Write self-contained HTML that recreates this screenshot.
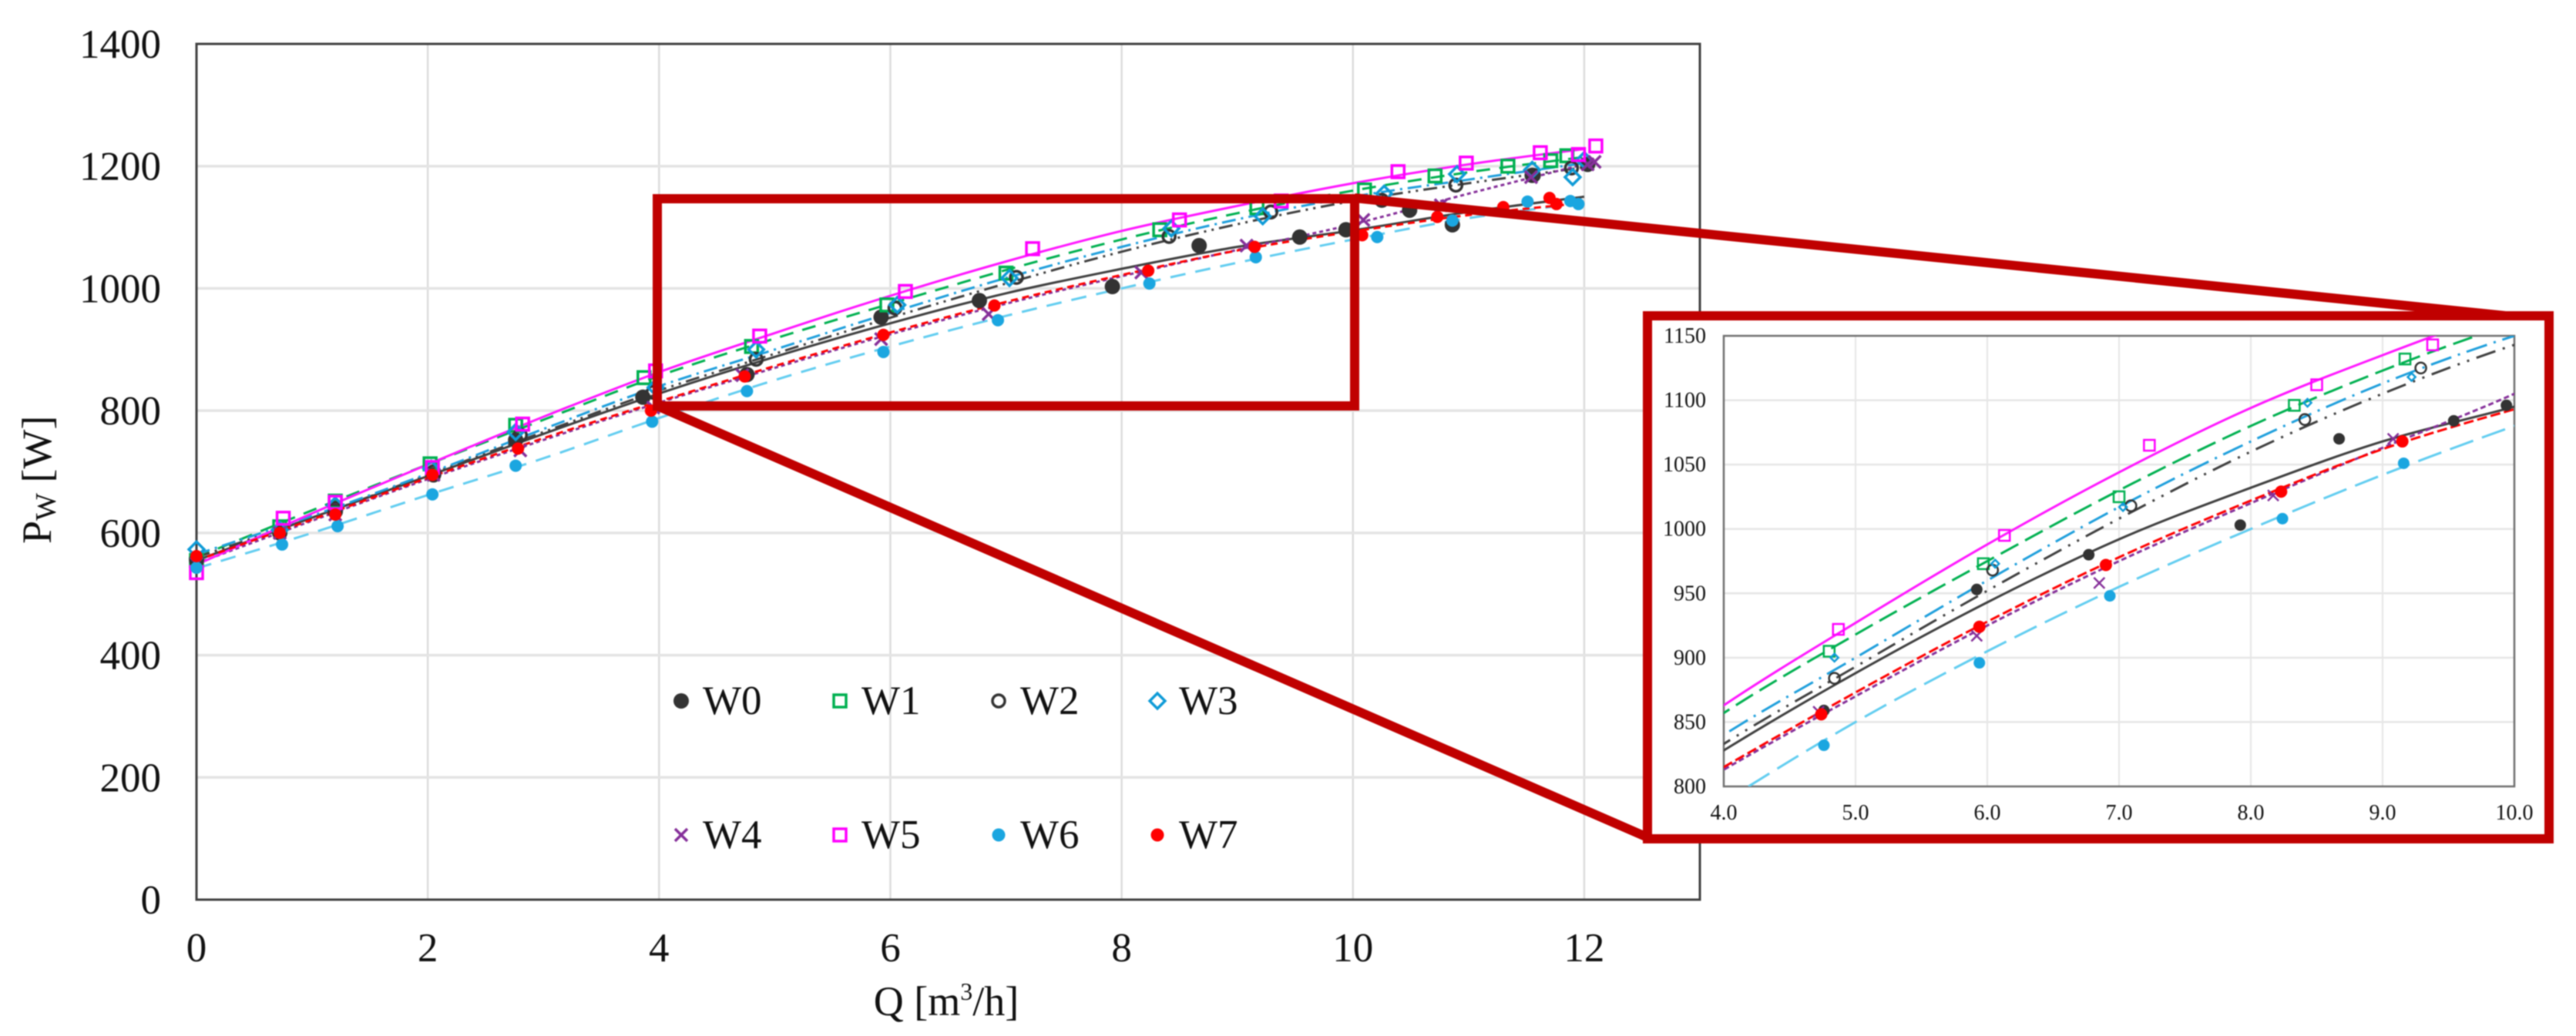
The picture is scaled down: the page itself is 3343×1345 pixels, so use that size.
<!DOCTYPE html>
<html lang="en">
<head>
<meta charset="utf-8">
<title>Pw versus Q pump curves</title>
<style>
html,body{margin:0;padding:0;background:#fff;width:3343px;height:1340px;overflow:hidden;}
#chart{position:absolute;left:0;top:0;display:block;width:3343px;height:1340px;overflow:hidden;}
#chart-content{filter:blur(0.7px);}
text{font-family:"Liberation Serif","Times New Roman",serif;fill:#111;}
</style>
</head>
<body>
<svg id="chart" xmlns="http://www.w3.org/2000/svg" width="3343" height="1340" viewBox="0 0 3343 1340">
  <defs>
    <clipPath id="inset-clip"><rect x="2237" y="436" width="1026" height="585"/></clipPath>
    <clipPath id="main-clip"><rect x="255" y="57" width="1951" height="1111"/></clipPath>
  </defs>
  <rect x="0" y="0" width="3343" height="1340" fill="#fff"/>
  <g id="chart-content">
  <g id="main-plot"></g>
  <text transform="translate(66,706) rotate(-90)" font-size="54">P<tspan font-size="38" dy="6">W</tspan><tspan dy="-6"> [W]</tspan></text>
  <text x="1228" y="1318" font-size="54" text-anchor="middle">Q [m<tspan font-size="32" dy="-20">3</tspan><tspan dy="20">/h]</tspan></text>
  <g id="legend"></g>
  <g id="zoom-callout">
    <rect x="853" y="258" width="905" height="269" fill="none" stroke="#c00000" stroke-width="12"/>
    <line x1="1758" y1="257" x2="3310" y2="416" stroke="#c00000" stroke-width="12"/>
    <line x1="853" y1="527" x2="2140" y2="1088" stroke="#c00000" stroke-width="12"/>
    <rect x="2138" y="410" width="1170" height="679" fill="#fff" stroke="#c00000" stroke-width="12"/>
  </g>
  <g id="inset-plot"></g>
  </g>
</svg>
<script>
const seriesNames = ['W0', 'W1', 'W2', 'W3', 'W4', 'W5', 'W6', 'W7'];
const mainXTicks = [0, 2, 4, 6, 8, 10, 12];
const mainYTicks = [0, 200, 400, 600, 800, 1000, 1200, 1400];
const insetXTicks = [4, 5, 6, 7, 8, 9, 10];
const insetYTicks = [800, 850, 900, 950, 1000, 1050, 1100, 1150];

const curveQ = [0, 1, 2, 3, 4, 5, 6, 7, 8, 9, 10, 11, 12];
const curveW0 = [555, 625, 693, 762, 828, 888, 943, 992, 1032, 1068, 1095, 1125, 1150];
const curveW1 = [560, 637, 712, 785, 857, 918, 975, 1030, 1080, 1123, 1160, 1190, 1215];
const curveW2 = [560, 625, 695, 765, 833, 893, 952, 1008, 1060, 1105, 1143, 1172, 1198];
const curveW3 = [565, 628, 697, 770, 840, 900, 960, 1017, 1068, 1113, 1150, 1178, 1205];
const curveW4 = [550, 620, 688, 752, 813, 870, 925, 975, 1020, 1063, 1105, 1155, 1203];
const curveW5 = [548, 632, 712, 790, 863, 927, 988, 1044, 1094, 1135, 1172, 1203, 1228];
const curveW6 = [542, 600, 662, 722, 788, 850, 905, 955, 1000, 1042, 1080, 1115, 1140];
const curveW7 = [555, 622, 690, 755, 815, 873, 928, 978, 1022, 1062, 1093, 1120, 1140];

const pointsQW0 = [0, 0.72, 1.2, 2.05, 2.76, 3.86, 4.76, 5.92, 6.77, 7.92, 8.67, 9.54, 9.94, 10.49, 10.86, 11.55, 12.03];
const pointsPW0 = [558, 600, 635, 695, 752, 822, 859, 953, 980, 1003, 1070, 1084, 1096, 1128, 1104, 1185, 1203];
const pointsQW1 = [0, 0.72, 1.2, 2.02, 2.76, 3.87, 4.8, 5.97, 7.0, 8.33, 9.17, 10.1, 10.71, 11.34, 11.71, 11.85];
const pointsPW1 = [555, 610, 652, 713, 776, 854, 905, 973, 1025, 1096, 1132, 1161, 1184, 1200, 1209, 1217];
const pointsQW2 = [0, 0.72, 1.2, 2.05, 2.8, 3.95, 4.84, 6.04, 7.09, 8.41, 9.29, 10.25, 10.89, 11.56, 11.89];
const pointsPW2 = [555, 600, 640, 700, 760, 830, 884, 968, 1018, 1085, 1125, 1144, 1169, 1185, 1197];
const pointsQW3 = [0, 0.72, 1.2, 2.03, 2.76, 3.97, 4.84, 6.06, 7.03, 8.43, 9.22, 10.27, 10.9, 11.55, 11.9, 12.0];
const pointsPW3 = [573, 605, 645, 705, 765, 838, 900, 973, 1017, 1098, 1118, 1155, 1187, 1194, 1182, 1210];
const pointsQW4 = [0, 0.72, 1.2, 2.05, 2.8, 3.95, 4.72, 5.92, 6.85, 8.17, 9.08, 10.09, 10.76, 11.54, 12.03, 12.09];
const pointsPW4 = [550, 600, 630, 695, 735, 805, 858, 917, 958, 1026, 1070, 1112, 1136, 1182, 1203, 1207];
const pointsQW5 = [0, 0.75, 1.2, 2.04, 2.82, 3.97, 4.87, 6.13, 7.23, 8.5, 9.38, 10.39, 10.98, 11.62, 11.95, 12.1];
const pointsPW5 = [535, 624, 650, 707, 778, 865, 922, 995, 1065, 1112, 1143, 1191, 1205, 1222, 1219, 1233];
const pointsQW6 = [0, 0.74, 1.22, 2.04, 2.76, 3.94, 4.76, 5.94, 6.93, 8.24, 9.16, 10.21, 10.86, 11.51, 11.88, 11.95];
const pointsPW6 = [543, 581, 611, 663, 710, 782, 832, 896, 948, 1008, 1051, 1084, 1111, 1142, 1143, 1138];
const pointsQW7 = [0, 0.72, 1.2, 2.04, 2.78, 3.93, 4.74, 5.94, 6.9, 8.23, 9.15, 10.08, 10.73, 11.3, 11.7, 11.76];
const pointsPW7 = [562, 600, 630, 695, 738, 800, 856, 924, 972, 1029, 1068, 1087, 1117, 1133, 1148, 1138];

const curves = [curveW0, curveW1, curveW2, curveW3, curveW4, curveW5, curveW6, curveW7];
const pointsQ = [pointsQW0, pointsQW1, pointsQW2, pointsQW3, pointsQW4, pointsQW5, pointsQW6, pointsQW7];
const pointsP = [pointsPW0, pointsPW1, pointsPW2, pointsPW3, pointsPW4, pointsPW5, pointsPW6, pointsPW7];
const lineColors = ['#404040', '#00b050', '#404040', '#1f9fdc', '#86309a', '#ff19ff', '#62cdf0', '#ff0000'];
const markColors = ['#333333', '#00b050', '#333333', '#0f9bd7', '#86309a', '#ff00ff', '#1ba6e0', '#ff0000'];
const dashes = ['', '18 12', '18 7 3 7 3 7', '18 7 3 7', '5 4', '', '20 13', '9 6'];
const insetDashes = ['', '26 10', '26 10 3 10 3 10', '28 9 3 9', '7 4', '', '32 12', '13 5'];
const shapes = ['dot', 'square', 'ring', 'diamond', 'cross', 'square', 'dot', 'dot'];
const insetDot = [7.5, 0, 0, 0, 0, 0, 7.5, 8];
const mainDot = [10, 0, 0, 0, 0, 0, 8, 8];
const legendDot = [10, 0, 0, 0, 0, 0, 8.5, 8.5];

const SVG_NS = 'http://www.w3.org/2000/svg';

function make(tag, attrs, parent) {
  const el = document.createElementNS(SVG_NS, tag);
  for (const k in attrs) el.setAttribute(k, attrs[k]);
  parent.appendChild(el);
  return el;
}

function linearScale(d0, d1, r0, r1) {
  return v => r0 + (v - d0) * (r1 - r0) / (d1 - d0);
}

function splinePath(xs, ys) {
  const n = xs.length;
  let d = 'M' + xs[0].toFixed(1) + ' ' + ys[0].toFixed(1);
  for (let i = 0; i < n - 1; i++) {
    const a = Math.max(i - 1, 0), b = Math.min(i + 2, n - 1);
    const c1x = xs[i] + (xs[i + 1] - xs[a]) / 6, c1y = ys[i] + (ys[i + 1] - ys[a]) / 6;
    const c2x = xs[i + 1] - (xs[b] - xs[i]) / 6, c2y = ys[i + 1] - (ys[b] - ys[i]) / 6;
    d += ' C' + c1x.toFixed(1) + ' ' + c1y.toFixed(1) + ' ' + c2x.toFixed(1) + ' ' + c2y.toFixed(1) + ' ' + xs[i + 1].toFixed(1) + ' ' + ys[i + 1].toFixed(1);
  }
  return d;
}

function drawMarker(parent, s, cx, cy, size, sw, dotR, diamondScale) {
  const shape = shapes[s], color = markColors[s];
  let el;
  if (shape === 'dot') {
    el = make('circle', {cx: cx, cy: cy, r: dotR, fill: color}, parent);
  } else if (shape === 'square') {
    el = make('rect', {x: cx - size / 2, y: cy - size / 2, width: size, height: size, fill: 'none', stroke: color, 'stroke-width': sw}, parent);
  } else if (shape === 'ring') {
    el = make('circle', {cx: cx, cy: cy, r: size / 2, fill: 'none', stroke: color, 'stroke-width': sw}, parent);
  } else if (shape === 'diamond') {
    const h = size * diamondScale;
    el = make('path', {d: 'M' + cx + ' ' + (cy - h) + ' L' + (cx + h) + ' ' + cy + ' L' + cx + ' ' + (cy + h) + ' L' + (cx - h) + ' ' + cy + ' Z', fill: 'none', stroke: color, 'stroke-width': sw}, parent);
  } else {
    const h = size / 2;
    el = make('path', {d: 'M' + (cx - h) + ' ' + (cy - h) + ' L' + (cx + h) + ' ' + (cy + h) + ' M' + (cx + h) + ' ' + (cy - h) + ' L' + (cx - h) + ' ' + (cy + h), fill: 'none', stroke: color, 'stroke-width': sw}, parent);
  }
  return el;
}

function drawPlot(root, cfg) {
  const xS = cfg.xS, yS = cfg.yS;
  const bg = make('rect', {x: cfg.left, y: cfg.top, width: cfg.right - cfg.left, height: cfg.bottom - cfg.top, fill: '#fff'}, root);
  
  

  cfg.xTicks.forEach(t => {
    if (t > cfg.xMinGrid && t < cfg.xMaxGrid) {
      const g = make('line', {x1: xS(t), x2: xS(t), y1: cfg.top, y2: cfg.bottom, stroke: cfg.gridV, 'stroke-width': cfg.gridVW}, root);
      
      
    }
    const lab = make('text', {x: xS(t), y: cfg.xLabelY, 'font-size': cfg.font, 'text-anchor': 'middle'}, root);
    
    
    lab.textContent = cfg.xFormat(t);
  });

  cfg.yTicks.forEach(t => {
    if (t > cfg.yMinGrid && t < cfg.yMaxGrid) {
      const g = make('line', {x1: cfg.left, x2: cfg.right, y1: yS(t), y2: yS(t), stroke: cfg.gridH, 'stroke-width': cfg.gridHW}, root);
      
      
    }
    const lab = make('text', {x: cfg.yLabelX, y: yS(t) + cfg.yLabelDy, 'font-size': cfg.font, 'text-anchor': 'end'}, root);
    
    
    lab.textContent = String(t);
  });

  const border = make('rect', {x: cfg.left, y: cfg.top, width: cfg.right - cfg.left, height: cfg.bottom - cfg.top, fill: 'none', stroke: cfg.border, 'stroke-width': cfg.borderW}, root);
  
  

  const clipped = make('g', {'clip-path': cfg.clip}, root);
  
  

  curves.forEach((vals, s) => {
    const path = make('path', {
      d: splinePath(curveQ.map(xS), vals.map(yS)),
      fill: 'none',
      stroke: lineColors[s],
      'stroke-width': cfg.lineW,
      'stroke-dasharray': cfg.dash[s]
    }, clipped);
    
    
  });

  const inDomain = root.id === 'inset-plot';
  pointsQ.forEach((qs, s) => {
    qs.forEach((q, i) => {
      const p = pointsP[s][i];
      if (inDomain && (q < 4 || q > 10 || p < 800 || p > 1150)) return;
      const m = drawMarker(root, s, xS(q), yS(p), cfg.markSize, cfg.markW, cfg.dots[s], cfg.diamond);
      
      
    });
  });
}

drawPlot(document.getElementById('main-plot'), {
  left: 255, right: 2206, top: 57, bottom: 1168,
  xS: linearScale(0, 13, 255, 2206),
  yS: linearScale(0, 1400, 1168, 57),
  xTicks: mainXTicks, yTicks: mainYTicks,
  xMinGrid: 0, xMaxGrid: 13, yMinGrid: 0, yMaxGrid: 1400,
  xLabelY: 1248, yLabelX: 209, yLabelDy: 18, font: 53,
  xFormat: t => String(t),
  gridV: '#dcdcdc', gridVW: 2.5, gridH: '#e4e4e4', gridHW: 3.5,
  border: '#404040', borderW: 3,
  clip: 'url(#main-clip)', lineW: 3, dash: dashes,
  markSize: 16, markW: 3.5, dots: mainDot, diamond: 0.62
});

drawPlot(document.getElementById('inset-plot'), {
  left: 2237, right: 3263, top: 436, bottom: 1021,
  xS: linearScale(4, 10, 2237, 3263),
  yS: linearScale(800, 1150, 1021, 436),
  xTicks: insetXTicks, yTicks: insetYTicks,
  xMinGrid: 4, xMaxGrid: 10, yMinGrid: 800, yMaxGrid: 1150,
  xLabelY: 1064, yLabelX: 2214, yLabelDy: 9, font: 28,
  xFormat: t => t.toFixed(1),
  gridV: '#e6e6e6', gridVW: 2, gridH: '#e6e6e6', gridHW: 2.5,
  border: '#6f6f6f', borderW: 2.5,
  clip: 'url(#inset-clip)', lineW: 3, dash: insetDashes,
  markSize: 14, markW: 2.5, dots: insetDot, diamond: 0.36
});

const legendRoot = document.getElementById('legend');
seriesNames.forEach((name, s) => {
  const col = s % 4, row = Math.floor(s / 4);
  const mx = 884 + col * 206, my = 910 + row * 174;
  const mark = drawMarker(legendRoot, s, mx, my, 16, 3.5, legendDot[s], 0.62);
  
  
  const label = make('text', {x: mx + 28, y: my + 17, 'font-size': 53}, legendRoot);
  
  
  label.textContent = name;
});
</script>
</body>
</html>
